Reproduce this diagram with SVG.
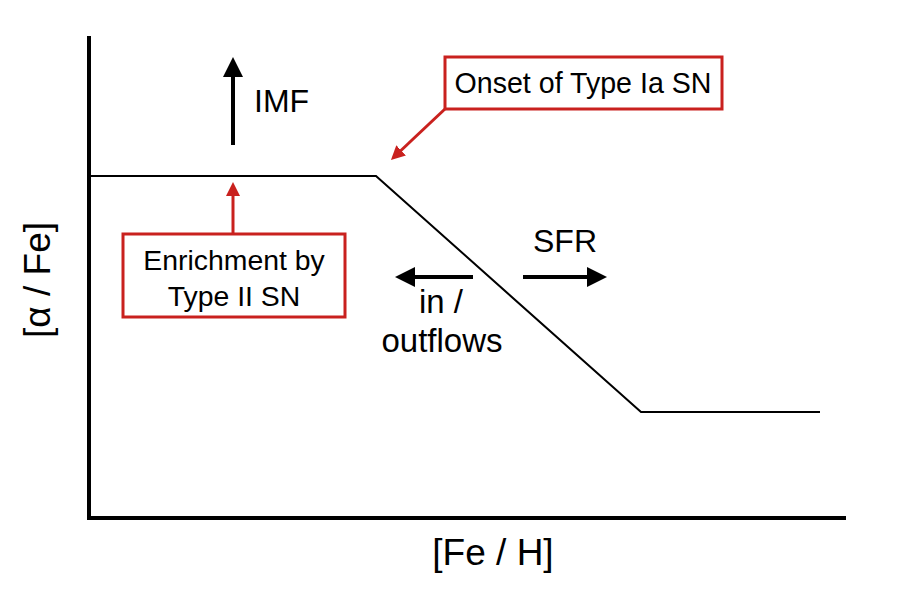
<svg xmlns="http://www.w3.org/2000/svg" width="919" height="600" viewBox="0 0 919 600">
<style>
text{font-family:"Liberation Sans",Arial,sans-serif;fill:#000}
.box{fill:#fff;stroke:#c9211e;stroke-width:3}
.red{stroke:#c9211e;stroke-width:3;fill:none}
.blk{stroke:#000;stroke-width:4;fill:none}
</style>
<defs>
<marker id="hb" markerUnits="userSpaceOnUse" viewBox="0 0 20 20" markerWidth="20" markerHeight="20" refX="1" refY="10" orient="auto"><path d="M0,0 L20,10 L0,20 z" fill="#000"/></marker>
<marker id="hr" markerUnits="userSpaceOnUse" viewBox="0 0 14 14" markerWidth="14" markerHeight="14" refX="1" refY="7" orient="auto"><path d="M0,0 L14,7 L0,14 z" fill="#c9211e"/></marker>
</defs>
<rect width="919" height="600" fill="#fff"/>
<g id="axes">
<path d="M89,36 L89,518 L846,518" fill="none" stroke="#000" stroke-width="4"/>
<text x="37" y="280" font-size="37" text-anchor="middle" dominant-baseline="central" transform="rotate(-90 37 280)">[α / Fe]</text>
<text x="493" y="565" font-size="37" text-anchor="middle">[Fe / H]</text>
</g>
<g id="curve">
<path d="M90,176 L376,176 L641,412 L820,412" fill="none" stroke="#000" stroke-width="2"/>
</g>
<g id="connectors">
<line class="blk" x1="233" y1="145" x2="233" y2="76" marker-end="url(#hb)"/>
<line class="blk" x1="523" y1="277" x2="588" y2="277" marker-end="url(#hb)"/>
<line class="blk" x1="473" y1="277" x2="414" y2="277" marker-end="url(#hb)"/>
<line class="red" x1="233" y1="234" x2="233" y2="195" marker-end="url(#hr)"/>
<line class="red" x1="446" y1="108" x2="400.4" y2="151" marker-end="url(#hr)"/>
</g>
<g id="imf"><text x="254" y="112" font-size="32">IMF</text></g>
<g id="sfr"><text x="565" y="252" font-size="32" text-anchor="middle">SFR</text></g>
<g id="flows"><text x="441" y="313" font-size="33" text-anchor="middle">in /</text><text x="442" y="352" font-size="33" text-anchor="middle">outflows</text></g>
<g id="onset">
<rect class="box" x="445" y="57" width="277" height="52"/>
<text x="583" y="93" font-size="28.6" text-anchor="middle">Onset of Type Ia SN</text>
</g>
<g id="enrichment">
<rect class="box" x="123" y="234" width="222" height="83"/>
<text x="234" y="270" font-size="28.4" text-anchor="middle">Enrichment by</text>
<text x="234" y="306" font-size="28.4" text-anchor="middle">Type II SN</text>
</g>
</svg>
